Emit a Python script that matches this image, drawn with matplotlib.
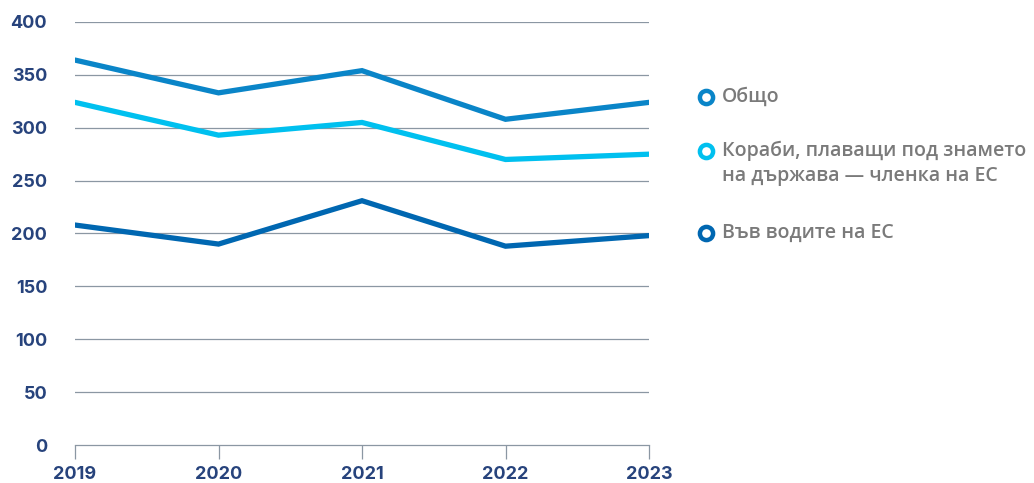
import matplotlib.pyplot as plt
from matplotlib.lines import Line2D

# --- data ---
years = ["2019", "2020", "2021", "2022", "2023"]
total = [364, 333, 354, 308, 324]
eu_flag = [324, 293, 305, 270, 275]
eu_waters = [208, 190, 231, 188, 198]

labels = ["Общо", "Кораби, плаващи под знамето\nна държава — членка на ЕС", "Във водите на ЕС"]
colors = ["#0a85c8", "#00c0ef", "#0067b1"]

GRID = "#8b97a3"
TICK = "#27437c"
LEGEND_TXT = "#7a7a7a"

plt.rcParams["font.family"] = ["Open Sans", "DejaVu Sans"]

fig = plt.figure(figsize=(10.34, 4.83), dpi=100)
ax = fig.add_axes([75 / 1034, 1 - 445 / 483, (649 - 75) / 1034, (445 - 22) / 483])

x = list(range(len(years)))
for series, c in zip([total, eu_flag, eu_waters], colors):
    ax.plot(x, series, color=c, lw=3.8, solid_capstyle="round", solid_joinstyle="miter", zorder=3)

ax.set_xlim(0, len(years) - 1)
ax.set_ylim(0, 400)
ax.set_yticks(range(0, 401, 50))
ax.set_xticks(x)
ax.set_xticklabels(years)

for y in range(50, 401, 50):
    ax.axhline(y, color=GRID, lw=0.9, zorder=1)

for s in ["top", "right", "left"]:
    ax.spines[s].set_visible(False)
ax.spines["bottom"].set_color(GRID)
ax.spines["bottom"].set_linewidth(0.9)

ax.tick_params(axis="y", length=0, pad=20, labelsize=13, labelcolor=TICK)
ax.tick_params(axis="x", length=10, width=0.9, color=GRID, pad=5, labelsize=13, labelcolor=TICK)
for lab in ax.get_xticklabels() + ax.get_yticklabels():
    lab.set_fontweight("bold")
    lab.set_family(["Inter", "DejaVu Sans"])

# legend drawn beside the plot
leg_rows = [(706, 97), (706, 151), (706, 233)]
for (px, py), lab, c in zip(leg_rows, labels, colors):
    fx, fy = px / 1034, 1 - py / 483
    fig.add_artist(Line2D([fx], [fy], marker="o", markersize=9.5, markerfacecolor="white",
                          markeredgecolor=c, markeredgewidth=3.2, transform=fig.transFigure))
    ty = fy + 10 / 483 if "\n" in lab else fy
    fig.text(fx + 16 / 1034, ty, lab, color=LEGEND_TXT, fontsize=14,
             fontweight="semibold", va="top" if "\n" in lab else "center",
             linespacing=1.3)

fig.savefig("out.png", dpi=100)
